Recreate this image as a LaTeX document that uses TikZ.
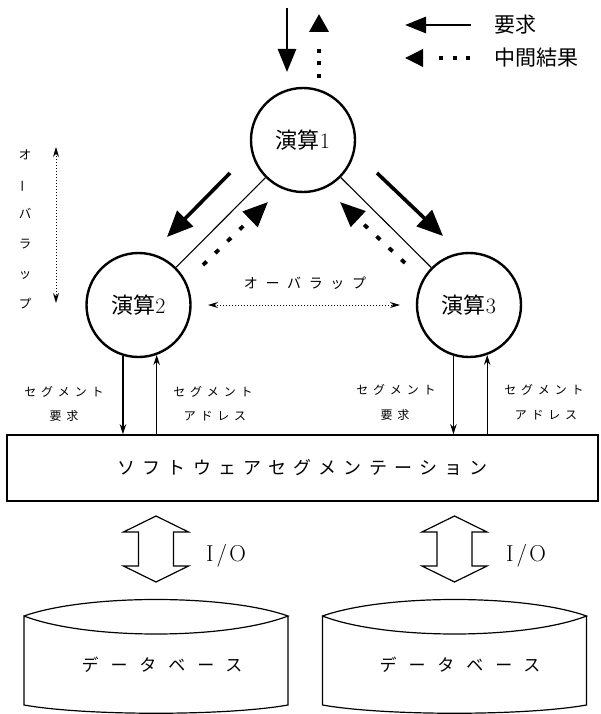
\documentclass[tikz,border=0pt]{standalone}
\usepackage{fontspec}
\usepackage{graphicx}
\usetikzlibrary{arrows.meta}
\newfontfamily\jp{Noto Sans CJK JP}
\newfontfamily\jpA[LetterSpace=40]{Noto Sans CJK JP}
\newfontfamily\jpB[LetterSpace=55]{Noto Sans CJK JP}
\newfontfamily\jpC[LetterSpace=70]{Noto Sans CJK JP}
\begin{document}
\begin{tikzpicture}[x=1pt,y=-1pt,
  opnode/.style={circle,draw,line width=2.4pt,minimum size=104pt,inner sep=0pt,font=\fontsize{22}{22}\selectfont},
  link/.style={line width=1.1pt},
  bigarrow/.style={line width=3.6pt,-{Triangle[length=26pt,width=22pt]}},
  bigdots/.style={line width=3.8pt,dash pattern=on 5pt off 12pt on 5pt off 12pt on 5pt off 12pt on 5pt off 300pt,-{Triangle[length=25pt,width=21pt]}},
  toparrow/.style={line width=2.8pt,-{Triangle[length=23pt,width=18pt]}},
  topdots/.style={line width=3.6pt,dash pattern=on 4pt off 8.5pt on 4pt off 8.5pt on 4pt off 300pt,-{Triangle[length=18pt,width=19pt]}},
  legarrow/.style={line width=2.8pt,-{Triangle[length=21pt,width=16pt]}},
  legdots/.style={line width=3.6pt,dash pattern=on 4pt off 9.5pt on 4pt off 9.5pt on 4pt off 300pt,-{Triangle[length=18pt,width=17pt]}},
  segarrow/.style={line width=1.3pt,-{Stealth[length=10pt,width=6.5pt]}},
  ovl/.style={line width=1pt,dash pattern=on 1pt off 2pt,{Stealth[length=10pt,width=6pt]}-{Stealth[length=10pt,width=6pt]}},
  seglbl/.style={font=\jpA\fontsize{12}{12}\selectfont,inner sep=0pt},
  outline/.style={line width=1.2pt,line join=miter}
]
\useasboundingbox (0,0) rectangle (600,714);

% operation nodes
\node[opnode] (c1) at (303,140) {{\jp 演算}1};
\node[opnode] (c2) at (138.5,305) {{\jp 演算}2};
\node[opnode] (c3) at (469,305) {{\jp 演算}3};
\draw[link] (c1) -- (c2);
\draw[link] (c1) -- (c3);

% top input / output arrows
\coordinate (inT) at (287,8);
\coordinate (inH) at (287,72);
\draw[toparrow] (inT) -- (inH);
\coordinate (outT) at (319,78);
\coordinate (outH) at (319,14);
\draw[topdots] (outT) -- (outH);

% legend
\coordinate (lg1t) at (471,25);
\coordinate (lg1h) at (405,25);
\draw[legarrow] (lg1t) -- (lg1h);
\node[anchor=west,font=\jp\fontsize{21}{21}\selectfont,inner sep=0pt] (lg1) at (494,25) {要求};
\coordinate (lg2t) at (470,58);
\coordinate (lg2h) at (405,58);
\draw[legdots] (lg2t) -- (lg2h);
\node[anchor=west,font=\jp\fontsize{21}{21}\selectfont,inner sep=0pt] (lg2) at (494,58) {中間結果};

% diagonal arrows
\coordinate (r12t) at (230,173);
\coordinate (r12h) at (167,237);
\draw[bigarrow] (r12t) -- (r12h);
\coordinate (m21t) at (203,265);
\coordinate (m21h) at (268,202);
\draw[bigdots] (m21t) -- (m21h);
\coordinate (r13t) at (377,173);
\coordinate (r13h) at (443,236);
\draw[bigarrow] (r13t) -- (r13h);
\coordinate (m31t) at (405,263);
\coordinate (m31h) at (340,202);
\draw[bigdots] (m31t) -- (m31h);

% overlap arrows
\coordinate (ovhL) at (208,305);
\coordinate (ovhR) at (400,305);
\draw[ovl] (ovhL) -- (ovhR);
\node[font=\jpB\fontsize{14}{14}\selectfont,inner sep=0pt] (ovlh) at (305,283) {オーバラップ};
\coordinate (ovvT) at (56,147);
\coordinate (ovvB) at (56,303);
\draw[ovl] (ovvT) -- (ovvB);
\node[font=\jp\fontsize{12.5}{29.8}\selectfont,align=center,inner sep=0pt] (ovlv) at (25,229)
  {オ\\\rotatebox[origin=c]{90}{ー}\\バ\\ラ\\ッ\\プ};

% software segmentation block
\node[draw,line width=1.6pt,minimum width=591pt,minimum height=66pt,inner sep=0pt,
      font=\jpA\fontsize{18}{18}\selectfont] (seg) at (302.5,468) {\raisebox{2pt}{ソフトウェアセグメンテーション}};

% segment request / address arrows
\draw[segarrow] (c2.253) -- (c2.253 |- seg.north);
\draw[segarrow] (c2.290 |- seg.north) -- (c2.290);
\draw[segarrow] (c3.253) -- (c3.253 |- seg.north);
\draw[segarrow] (c3.290 |- seg.north) -- (c3.290);

\node[seglbl] (l2a) at (64,392) {セグメント};
\node[seglbl] (l2b) at (64,416) {要求};
\node[seglbl] (l2c) at (213,392) {セグメント};
\node[seglbl] (l2d) at (215,416) {アドレス};
\node[seglbl] (l3a) at (396,390) {セグメント};
\node[seglbl] (l3b) at (395,415) {要求};
\node[seglbl] (l3c) at (544,390) {セグメント};
\node[seglbl] (l3d) at (546,415) {アドレス};

% I/O double arrows
\foreach \cx/\nm in {156/io1, 454.5/io2}{
  \coordinate (\nm) at (\cx,549);
  \draw[outline] (\nm) ++(0,-33) -- ++(32.5,16) -- ++(-15,0) -- ++(0,34) -- ++(15,0)
     -- ++(-32.5,16) -- ++(-32.5,-16) -- ++(15,0) -- ++(0,-34) -- ++(-15,0) -- cycle;
}
\node[font=\fontsize{23}{23}\selectfont,inner sep=0pt] (iol1) at (226,556) {I\hspace{3pt}/\hspace{2pt}O};
\node[font=\fontsize{23}{23}\selectfont,inner sep=0pt] (iol2) at (526,556) {I\hspace{3pt}/\hspace{2pt}O};

% databases
\foreach \cx in {156,454.5}{
  \begin{scope}[shift={(\cx,0)}]
    \draw[outline] (-132,616) .. controls (-70,594) and (70,594) .. (132,616)
       .. controls (70,640) and (-70,640) .. (-132,616) -- (-132,705)
       .. controls (-70,716) and (70,716) .. (132,705) -- (132,616);
  \end{scope}
}
\node[font=\jpC\fontsize{17}{17}\selectfont,inner sep=0pt] (db1) at (162,665) {データベース};
\node[font=\jpC\fontsize{17}{17}\selectfont,inner sep=0pt] (db2) at (460,665) {データベース};
\end{tikzpicture}
\end{document}
